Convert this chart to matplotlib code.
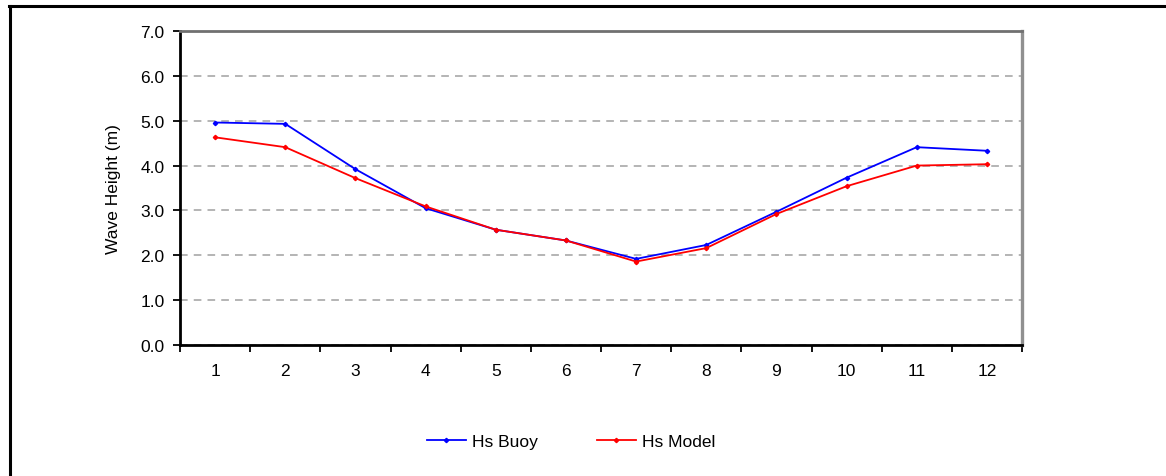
import matplotlib
matplotlib.use("Agg")
import matplotlib.pyplot as plt
from matplotlib.lines import Line2D
from matplotlib.ticker import FixedLocator

plt.rcParams["font.family"] = ["Liberation Sans", "DejaVu Sans"]

# monthly significant wave height, buoy vs model
months = [1, 2, 3, 4, 5, 6, 7, 8, 9, 10, 11, 12]
hs_buoy = [4.96, 4.93, 3.92, 3.05, 2.57, 2.33, 1.92, 2.23, 2.97, 3.73, 4.41, 4.33]
hs_model = [4.63, 4.41, 3.72, 3.09, 2.57, 2.33, 1.86, 2.16, 2.92, 3.54, 4.00, 4.03]
y_ticks = [0, 1, 2, 3, 4, 5, 6, 7]

W, H = 1166, 477
FS = 12.5
fig = plt.figure(figsize=(W / 100, H / 100), dpi=100)
ax = fig.add_axes([180 / W, 131 / H, 842 / W, 314 / H])

# outer page frame (only left/top visible)
fig.add_artist(Line2D([9.5 / W, 9.5 / W], [-0.05, (H - 7) / H], transform=fig.transFigure,
                      color="black", lw=2.2))
fig.add_artist(Line2D([8.5 / W, 1.02], [(H - 7) / H, (H - 7) / H], transform=fig.transFigure,
                      color="black", lw=2.2))

ax.plot(months, hs_buoy, color="#0000ff", lw=1.3, marker="D", ms=2.2, label="Hs Buoy", zorder=3)
ax.plot(months, hs_model, color="#ff0000", lw=1.3, marker="D", ms=2.2, label="Hs Model", zorder=4)

ax.set_xlim(0.5, 12.5)
ax.set_ylim(0, 7)
ax.set_yticks(y_ticks)
ax.set_yticklabels([f"{v:.1f}" for v in y_ticks])
ax.set_xticks(months)
ax.set_xticklabels([str(m) for m in months])
ax.xaxis.set_minor_locator(FixedLocator([m + 0.5 for m in [0] + months]))

ax.tick_params(axis="x", which="major", length=0, pad=13, labelsize=FS, colors="black")
ax.tick_params(axis="x", which="minor", length=5, width=1.3, direction="out", color="black")
ax.tick_params(axis="y", which="major", length=5, width=1.3, direction="out", pad=6, labelsize=FS)

ax.yaxis.grid(True, color="#a0a0a0", ls=(0, (5, 4)), lw=1.1)
ax.set_axisbelow(True)

for side in ("left", "bottom"):
    ax.spines[side].set_color("black")
    ax.spines[side].set_linewidth(2.0)
ax.spines["right"].set_color("#909090")
ax.spines["right"].set_linewidth(2.4)
ax.spines["top"].set_color("#707070")
ax.spines["top"].set_linewidth(2.0)

ax.set_ylabel("Wave Height (m)", fontsize=FS, labelpad=14)

fig.legend(loc="center", bbox_to_anchor=(571 / W, 35 / H), ncol=2, frameon=False,
           fontsize=FS, handlelength=2.25, handletextpad=0.35, columnspacing=3.4)

fig.savefig("out.png", dpi=100, facecolor="white")
